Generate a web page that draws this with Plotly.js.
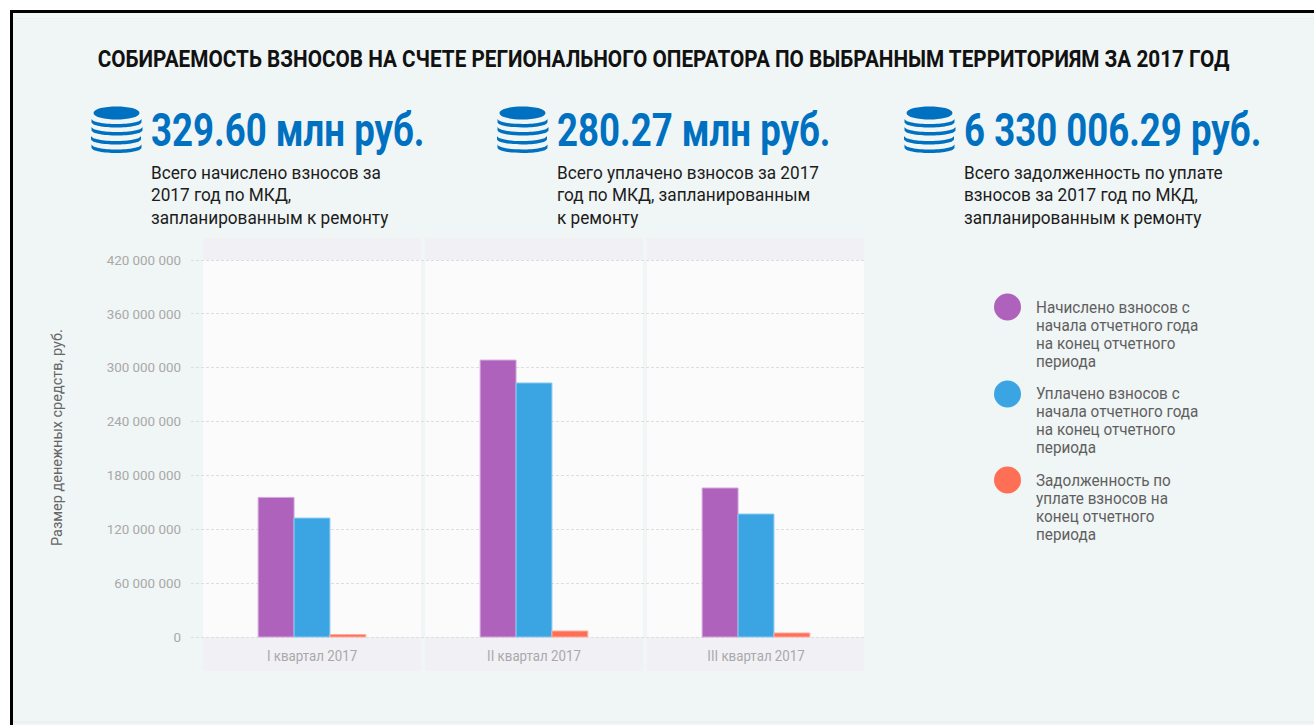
<!DOCTYPE html>
<html lang="ru"><head><meta charset="utf-8">
<script src="https://cdn.plot.ly/plotly-3.0.1.min.js"></script>
<style>
html,body{margin:0;padding:0;background:#fff;width:1314px;height:725px;overflow:hidden}
#bg{position:absolute;left:10px;top:10px;width:1304px;height:715px;box-sizing:border-box;background:#f0f5f5;border-left:3px solid #000;border-top:3px solid #000}
#chart{position:absolute;left:0;top:0;width:1314px;height:725px}
</style></head><body>
<div id="bg"></div><div id="chart"></div>
<script>
const FONT = '"Roboto",sans-serif';
const quarters = ['I квартал 2017','II квартал 2017','III квартал 2017'];
const accrued = [155500000,308500000,166000000];
const paid = [132500000,283000000,137000000];
const debt = [2800000,6700000,4500000];
const seriesNames = ['Начислено взносов с<br>начала отчетного года<br>на конец отчетного<br>периода','Уплачено взносов с<br>начала отчетного года<br>на конец отчетного<br>периода','Задолженность по<br>уплате взносов на<br>конец отчетного<br>периода'];
const seriesColors = ['#ae62bc','#3ba5e3','#fe6f55'];
const seriesEdges = ['#d3a8da','#8ccbf0','#ffb0a2'];
const yTicks = [0,60000000,120000000,180000000,240000000,300000000,360000000,420000000];
const yTickText = ['0','60 000 000','120 000 000','180 000 000','240 000 000','300 000 000','360 000 000','420 000 000'];
const titleText = 'СОБИРАЕМОСТЬ ВЗНОСОВ НА СЧЕТЕ РЕГИОНАЛЬНОГО ОПЕРАТОРА ПО ВЫБРАННЫМ ТЕРРИТОРИЯМ ЗА 2017 ГОД';
const bigNumbers = ['329.60 млн руб.','280.27 млн руб.','6 330 006.29 руб.'];
const captions = ['Всего начислено взносов за<br>2017 год по МКД,<br>запланированным к ремонту','Всего уплачено взносов за 2017<br>год по МКД, запланированным<br>к ремонту','Всего задолженность по уплате<br>взносов за 2017 год по МКД,<br>запланированным к ремонту'];

const L=191,R=864,T=258,B=639;
const pxPerUnit=377/420000000;
const px=x=>(x-L)/(R-L), py=y=>(B-y)/(B-T);
const shapes=[], annotations=[], textFit=[];
function note(a,scale,spacing,anchor){annotations.push(Object.assign({xref:'paper',yref:'paper',showarrow:false,borderpad:0},a));textFit.push({scale,spacing,anchor});}
[[-0.491,0.491],[0.509,1.491],[1.509,2.4865]].forEach(b=>{
  shapes.push({type:'rect',layer:'below',xref:'x',yref:'paper',x0:b[0],x1:b[1],y0:py(238),y1:py(260),fillcolor:'#f1f0f5',line:{width:0}});
  shapes.push({type:'rect',layer:'below',xref:'x',yref:'paper',x0:b[0],x1:b[1],y0:py(260),y1:py(637),fillcolor:'#fbfbfb',line:{width:0}});
  shapes.push({type:'rect',layer:'below',xref:'x',yref:'paper',x0:b[0],x1:b[1],y0:py(637),y1:py(671),fillcolor:'#f1f0f5',line:{width:0}});
});
shapes.push({type:'line',layer:'below',xref:'paper',yref:'paper',x0:px(13),x1:px(1314),y0:py(18.5),y1:py(18.5),line:{color:'#e9eeee',width:1}});
shapes.push({type:'line',layer:'below',xref:'paper',yref:'paper',x0:px(13),x1:px(1314),y0:py(722),y1:py(722),line:{color:'#e3e9e9',width:1}});
function ell(cx,cy,rx,ry){return `M ${px(cx-rx)} ${py(cy)} C ${px(cx-rx)} ${py(cy-ry*1.33)} ${px(cx+rx)} ${py(cy-ry*1.33)} ${px(cx+rx)} ${py(cy)} C ${px(cx+rx)} ${py(cy+ry*1.33)} ${px(cx-rx)} ${py(cy+ry*1.33)} ${px(cx-rx)} ${py(cy)} Z`;}
function arc(cx,cy,rx,ry,t){return `M ${px(cx-rx)} ${py(cy)} C ${px(cx-rx)} ${py(cy+ry*1.33)} ${px(cx+rx)} ${py(cy+ry*1.33)} ${px(cx+rx)} ${py(cy)} L ${px(cx+rx)} ${py(cy+t)} C ${px(cx+rx)} ${py(cy+ry*1.33+t)} ${px(cx-rx)} ${py(cy+ry*1.33+t)} ${px(cx-rx)} ${py(cy+t)} Z`;}
[116.5,522.5,929.5].forEach(c=>{
  shapes.push({type:'path',xref:'paper',yref:'paper',path:ell(c,113,23,6.5),fillcolor:'#0070c0',line:{width:0}});
  [[118.5,25,0],[126.5,25.5,0.5],[135.5,25,-0.5],[144,25,0]].forEach(a=>{
    shapes.push({type:'path',xref:'paper',yref:'paper',path:arc(c+a[2],a[0],a[1],5.5,3.4),fillcolor:'#0070c0',line:{width:0}});
  });
});
[307,394,480].forEach((y,i)=>{
  shapes.push({type:'circle',xref:'paper',yref:'paper',x0:px(994),x1:px(1021),y0:py(y-13.5),y1:py(y+13.5),fillcolor:seriesColors[i],line:{width:0}});
  note({x:px(1034.5),y:py(297+[0,86,172.5][i]),xanchor:'left',yanchor:'top',align:'left',text:seriesNames[i],font:{family:FONT,size:16,color:'#5f5f5f'}},0.955,18,'left');
});
note({x:px(663),y:py(59),xanchor:'center',yanchor:'middle',text:'<b>'+titleText+'</b>',font:{family:FONT,size:24,color:'#111'}},0.864,null,'center');
[149.5,555.5,962.5].forEach((x,i)=>{
  note({x:px(x),y:py(130),xanchor:'left',yanchor:'middle',text:'<b>'+bigNumbers[i]+'</b>',font:{family:FONT,size:46,color:'#0070c0'}},0.796,null,'left');
  note({x:px(x+0.5),y:py(161),xanchor:'left',yanchor:'top',align:'left',text:captions[i],font:{family:FONT,size:18.5,color:'#1c1c1c'}},0.93,22.5,'left');
});
note({x:px(57),y:py(438),xanchor:'center',yanchor:'middle',textangle:-90,text:'Размер денежных средств, руб.',font:{family:FONT,size:14.5,color:'#666'}},1,null,'center');

const traces=[accrued,paid,debt].map((v,i)=>({type:'bar',x:[0,1,2],y:v,marker:{color:seriesColors[i],line:{color:seriesEdges[i],width:1}},showlegend:false,hoverinfo:'y'}));
function squeeze(t,s,anchor){
  const b=t.getBBox(); const ox=anchor==='left'?b.x:b.x+b.width/2;
  const prior=t.getAttribute('transform')||'';
  t.setAttribute('transform',`${prior} translate(${ox*(1-s)},0) scale(${s},1)`);
}
Plotly.newPlot('chart',traces,{
  width:1314,height:725,autosize:false,showlegend:false,barmode:'group',bargap:0.515,bargroupgap:0,
  paper_bgcolor:'rgba(0,0,0,0)',plot_bgcolor:'rgba(0,0,0,0)',
  margin:{l:L,r:1314-R,t:T,b:725-B,pad:0},
  xaxis:{range:[-0.5-10/222,2.4865],tickvals:[0,1,2],ticktext:quarters,ticklen:0,showgrid:false,zeroline:false,showline:false,ticklabelstandoff:7,
    tickfont:{family:FONT,size:14,color:'#a9a9a9'}},
  yaxis:{range:[-2/pxPerUnit,420000000+2/pxPerUnit],tickvals:yTicks,ticktext:yTickText,ticklen:0,showline:false,zeroline:false,showgrid:true,griddash:'3px,2px',gridcolor:'#dedede',gridwidth:1,ticklabelstandoff:9,
    tickfont:{family:FONT,size:13.4,color:'#a9a9a9'}},
  shapes,annotations
},{displayModeBar:false,staticPlot:true}).then(()=>{
  document.querySelectorAll('.annotation').forEach(g=>{
    const fit=textFit[+g.getAttribute('data-index')]; const t=g.querySelector('text');
    if(fit.spacing) t.querySelectorAll('tspan.line').forEach((l,i)=>l.setAttribute('dy',(i*fit.spacing)+'px'));
    if(fit.scale!==1) squeeze(t,fit.scale,fit.anchor);
  });
  document.querySelectorAll('.xtick text').forEach(t=>squeeze(t,0.95,'center'));
});
</script></body></html>
